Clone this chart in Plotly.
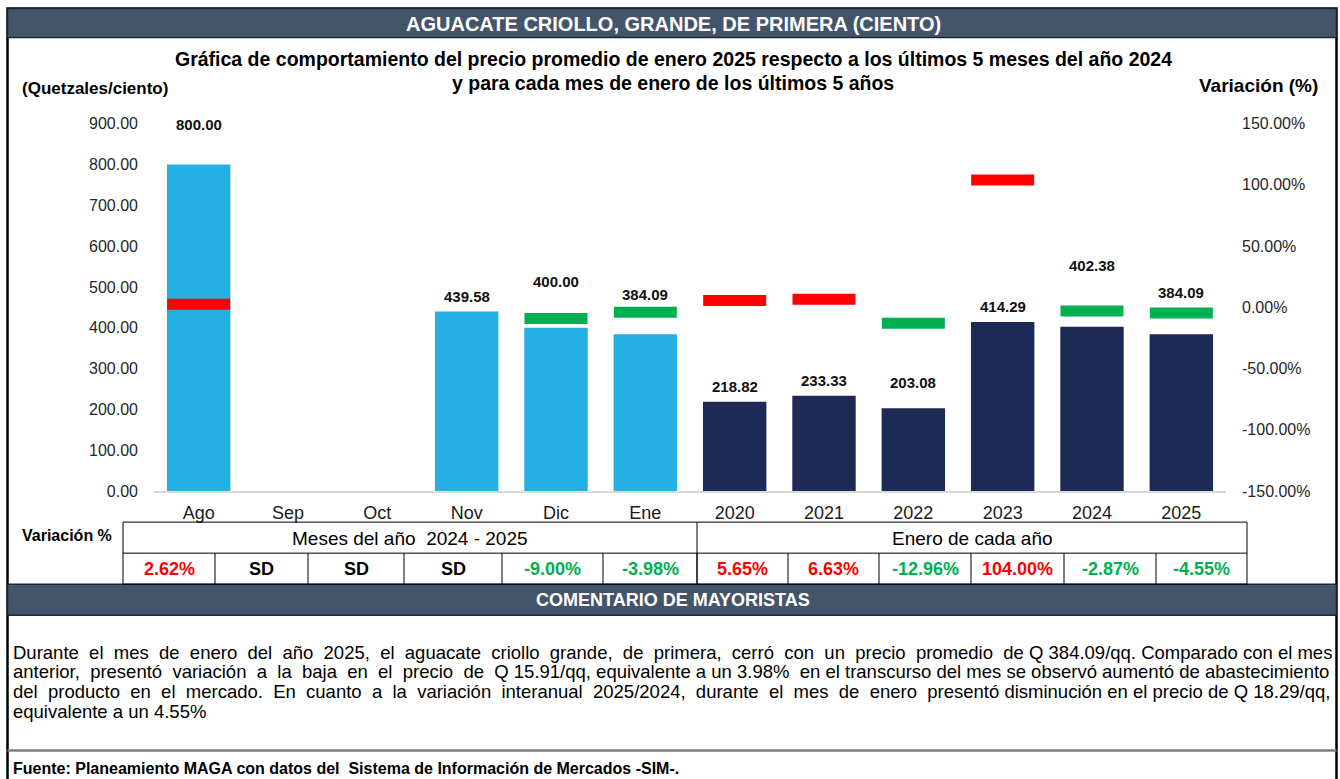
import plotly.graph_objects as go

# ---------------------------------------------------------------------------
# Datos
# ---------------------------------------------------------------------------
MONTHS = ["Ago", "Sep", "Oct", "Nov", "Dic", "Ene"]
YEARS = ["2020", "2021", "2022", "2023", "2024", "2025"]
CATEGORIES = MONTHS + YEARS

# precio promedio (Quetzales/ciento); None = sin dato
PRICE_MONTHS = [800.00, None, None, 439.58, 400.00, 384.09]
PRICE_YEARS = [218.82, 233.33, 203.08, 414.29, 402.38, 384.09]

# variación (%) ; None = SD
VAR_MONTHS = [2.62, None, None, None, -9.00, -3.98]
VAR_YEARS = [5.65, 6.63, -12.96, 104.00, -2.87, -4.55]

LEFT_TICKS = [0, 100, 200, 300, 400, 500, 600, 700, 800, 900]
RIGHT_TICKS = [-150, -100, -50, 0, 50, 100, 150]

TITLE = "AGUACATE CRIOLLO, GRANDE, DE PRIMERA (CIENTO)"
SUBTITLE_1 = "Gráfica de comportamiento del precio promedio de enero 2025 respecto a los últimos 5 meses del año 2024"
SUBTITLE_2 = "y para cada mes de enero de los últimos 5 años"
COMMENT_LINES = [
    "Durante el mes de enero del año 2025, el aguacate criollo grande, de primera, cerró con un precio promedio de Q 384.09/qq. Comparado con el mes",
    "anterior, presentó variación a la baja en el precio de Q 15.91/qq, equivalente a un 3.98%  en el transcurso del mes se observó aumentó de abastecimiento",
    "del producto en el mercado. En cuanto a la variación interanual 2025/2024, durante el mes de enero presentó disminución en el precio de Q 18.29/qq,",
    "equivalente a un 4.55%",
]
SOURCE = "Fuente: Planeamiento MAGA con datos del  Sistema de Información de Mercados -SIM-."

# ---------------------------------------------------------------------------
# Estilo
# ---------------------------------------------------------------------------
W, H = 1340, 779
# la captura final desplaza/comprime un poco en vertical: se compensa aquí
Y_OFF, Y_SCALE = 7.5, 0.977
FONT = "Liberation Sans, Arial, sans-serif"
BAR_LIGHT = "#25B0E4"
BAR_DARK = "#1E2A56"
RED = "#FF0000"
GREEN = "#00B050"
SLATE = "#44546A"
# desplazamiento (px) de las etiquetas sobre cada barra
LABEL_LIFT = [39, 0, 0, 15, 45, 39, 15, 15, 25, 15, 60, 41]
# bordes de la tabla de variación (px)
TABLE_COLS = [123, 215, 308, 404, 502, 603, 697, 788, 879, 971, 1064, 1156, 1247]


def px(x):
    return x / W


def py(y):
    return 1 - ((y - Y_OFF) / Y_SCALE) / H


# anchos de Arial (1/1000 em) para justificar el comentario
ARIAL = dict(zip("abcdefghijklmnopqrstuvwxyz",
                 [556, 556, 500, 556, 556, 278, 556, 556, 222, 222, 500, 222, 833,
                  556, 556, 556, 556, 333, 500, 278, 556, 500, 722, 500, 500, 500]))
ARIAL.update({c: 556 for c in "0123456789áéóúñ"})
ARIAL.update({" ": 278, ",": 278, ".": 278, "/": 278, "%": 889, "-": 333, "í": 278,
              "C": 722, "D": 722, "E": 667, "Q": 778})


def justify(line, size, width):
    natural = sum(ARIAL.get(c, 556) for c in line) * size / 1000
    extra = int(round((width - natural) / (278 * size / 1000)))
    gaps = line.count(" ")
    if extra <= 0 or gaps == 0:
        return line
    out, k = [], 0
    for c in line:
        out.append(c)
        if c == " ":
            n = extra // gaps + (1 if k < extra % gaps else 0)
            out.append("\u00a0" * n)
            k += 1
    return "".join(out)


def pct(v):
    return f"{v:.2f}%"


fig = go.Figure()

prices = PRICE_MONTHS + PRICE_YEARS
variations = VAR_MONTHS + VAR_YEARS

fig.add_trace(go.Bar(x=MONTHS, y=PRICE_MONTHS, marker_color=BAR_LIGHT, width=0.71,
                     marker_line_width=0, showlegend=False, hoverinfo="skip"))
fig.add_trace(go.Bar(x=YEARS, y=PRICE_YEARS, marker_color=BAR_DARK, width=0.71,
                     marker_line_width=0, showlegend=False, hoverinfo="skip"))

# marcadores de variación (eje derecho)
vx = [c for c, v in zip(CATEGORIES, variations) if v is not None]
vy = [v for v in variations if v is not None]
vcol = [RED if v >= 0 else GREEN for v in vy]
fig.add_trace(go.Scatter(
    x=vx, y=vy, yaxis="y2", mode="markers", showlegend=False, hoverinfo="skip",
    marker=dict(symbol="line-ew", size=45, line=dict(width=11, color=vcol)),
))

# etiquetas de precio (posición por índice de categoría)
for i, (p, lift) in enumerate(zip(prices, LABEL_LIFT)):
    if p is None:
        continue
    fig.add_annotation(x=i, y=p, xref="x", yref="y", text=f"{p:.2f}", showarrow=False,
                       yanchor="middle", yshift=lift / Y_SCALE,
                       font=dict(family=FONT, size=15, color="#111111", weight="bold"))

shapes = []
# marco exterior
shapes.append(dict(type="rect", xref="paper", yref="paper", x0=px(7.5), x1=px(1336.5),
                   y0=py(800), y1=py(8), line=dict(color="#000000", width=2.5)))
# barras de encabezado
for y0, y1 in [(8, 37), (583, 614)]:
    shapes.append(dict(type="rect", xref="paper", yref="paper", x0=px(7.5), x1=px(1336.5),
                       y0=py(y1), y1=py(y0), fillcolor=SLATE,
                       line=dict(color="#1F2633", width=1.5)))
# tabla de variación
tl = dict(color="#000000", width=1)
shapes.append(dict(type="rect", xref="paper", yref="paper", x0=px(TABLE_COLS[0]),
                   x1=px(TABLE_COLS[-1]), y0=py(583), y1=py(521), line=tl))
shapes.append(dict(type="line", xref="paper", yref="paper", x0=px(TABLE_COLS[0]),
                   x1=px(TABLE_COLS[-1]), y0=py(552), y1=py(552), line=tl))
shapes.append(dict(type="line", xref="paper", yref="paper", x0=px(697), x1=px(697),
                   y0=py(583), y1=py(521), line=tl))
for xc in TABLE_COLS[1:-1]:
    shapes.append(dict(type="line", xref="paper", yref="paper", x0=px(xc), x1=px(xc),
                       y0=py(583), y1=py(552), line=tl))
# línea sobre la fuente
shapes.append(dict(type="line", xref="paper", yref="paper", x0=px(7.5), x1=px(1336.5),
                   y0=py(749), y1=py(749), line=dict(color="#7F7F7F", width=2.5)))


def note(text, x, y, size, color="#000000", bold=False, anchor="center"):
    fig.add_annotation(text=text, x=px(x), y=py(y), xref="paper", yref="paper",
                       showarrow=False, xanchor=anchor, yanchor="middle",
                       font=dict(family=FONT, size=size, color=color,
                                 weight="bold" if bold else "normal"))


note(TITLE, 673, 23, 20, "#FFFFFF", True)
note(SUBTITLE_1, 673, 58, 19.5, "#000000", True)
note(SUBTITLE_2, 673, 82, 19.5, "#000000", True)
note("(Quetzales/ciento)", 20, 88, 17, "#000000", True, "left")
note("Variación (%)", 1320, 85, 19, "#000000", True, "right")

note("Variación %", 67, 534, 16, "#000000", True)
note("Meses del año  2024 - 2025", 410, 537, 19)
note("Enero de cada año", 972, 537, 19)
for i, v in enumerate(variations):
    xc = (TABLE_COLS[i] + TABLE_COLS[i + 1]) / 2
    if v is None:
        note("SD", xc, 568, 18, "#000000", True)
    else:
        note(pct(v), xc, 568, 18, RED if v >= 0 else GREEN, True)

note("COMENTARIO DE MAYORISTAS", 673, 599, 18, "#FFFFFF", True)
for i, line in enumerate(COMMENT_LINES):
    txt = line if i == len(COMMENT_LINES) - 1 else justify(line, 18.5, 1318)
    note(txt, 11, 651 + i * 19.7, 18.5, "#000000", False, "left")
note(SOURCE, 11, 767, 16, "#000000", True, "left")

fig.update_layout(
    width=W, height=H,
    margin=dict(l=0, r=0, t=0, b=0),
    paper_bgcolor="#FFFFFF", plot_bgcolor="#FFFFFF",
    barmode="overlay",
    shapes=shapes,
    font=dict(family=FONT, color="#262626"),
    xaxis=dict(domain=[px(154), px(1226)], type="category", categoryorder="array",
               categoryarray=CATEGORIES, range=[-0.5, len(CATEGORIES) - 0.5],
               autorange=False, showgrid=False, showline=True,
               linecolor="#D9D9D9", linewidth=1.5, ticks="outside", ticklen=5,
               tickcolor="rgba(0,0,0,0)", tickfont=dict(size=18, color="#1A1A1A")),
    yaxis=dict(domain=[py(490), py(123)], range=[0, 900], autorange=False,
               tickvals=LEFT_TICKS, ticktext=[f"{v:.2f}" for v in LEFT_TICKS],
               showgrid=False, zeroline=False, showline=False, ticklabelstandoff=15,
               tickfont=dict(size=16, color="#262626")),
    yaxis2=dict(overlaying="y", side="right", range=[-150, 150], autorange=False,
                tickvals=RIGHT_TICKS, ticktext=[pct(v) for v in RIGHT_TICKS],
                showgrid=False, zeroline=False, showline=False, ticklabelstandoff=15,
                tickfont=dict(size=16, color="#262626")),
)

fig.write_html("out.html", config={"displayModeBar": False},
               post_script="document.body.style.margin='0';document.body.style.overflow='hidden';")
